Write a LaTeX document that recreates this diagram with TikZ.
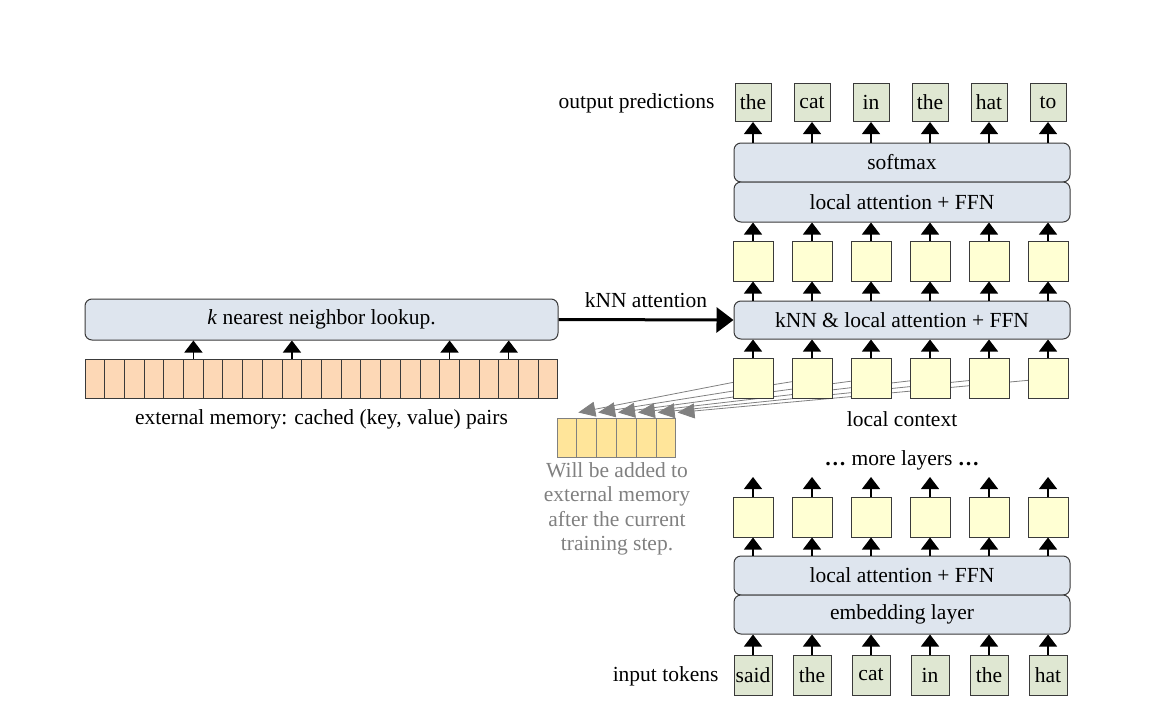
\documentclass[tikz,border=0pt]{standalone}
\usepackage{fontspec}
\setmainfont{Liberation Serif}
\usetikzlibrary{arrows.meta,backgrounds}
\definecolor{layerfill}{HTML}{DEE5EE}
\definecolor{tokfill}{HTML}{DFE7D2}
\definecolor{hidfill}{HTML}{FFFFD3}
\definecolor{memfill}{HTML}{FDD8B6}
\definecolor{newfill}{HTML}{FFE59A}
\definecolor{edge}{HTML}{3A3A3A}
\definecolor{graytxt}{HTML}{808080}
\begin{document}
\begin{tikzpicture}[x=1pt,y=-1pt,
  font=\fontsize{21.5}{24.3}\selectfont,
  layer/.style={draw=edge, line width=1pt, fill=layerfill, rounded corners=7pt, minimum width=336pt, inner sep=0pt},
  tok/.style={draw=edge, line width=1pt, fill=tokfill, minimum width=36pt, minimum height=38pt, inner sep=0pt},
  hid/.style={draw=edge, line width=1pt, fill=hidfill, minimum width=40pt, minimum height=40pt, inner sep=0pt},
  mem/.style={draw=edge, line width=1pt, fill=memfill, minimum width=19.708pt, minimum height=39pt, inner sep=0pt},
  newmem/.style={draw=graytxt, line width=1pt, fill=newfill, minimum width=19.83pt, minimum height=39pt, inner sep=0pt},
  arr/.style={-{Triangle[width=18pt,length=12pt]}, line width=1.2pt, black},
  bigarr/.style={-{Triangle[width=25pt,length=17pt]}, line width=3pt, black},
  grayarr/.style={-{Triangle[width=15pt,length=17pt]}, line width=0.8pt, graytxt},
]
\useasboundingbox (0,0) rectangle (1151,709);

% layers
\node[layer, minimum height=39pt] (soft) at (902,162.5) {softmax};
\node[layer, minimum height=40pt] (la1) at (902,202) {local attention + FFN};
\node[layer, minimum height=38pt] (knn) at (902,320) {kNN \& local attention + FFN};
\node[layer, minimum height=39pt] (la2) at (902,575.5) {local attention + FFN};
\node[layer, minimum height=39pt] (emb) at (902,614.5) {embedding layer};

% columns
\foreach \i/\o/\n in {1/the/said,2/cat/the,3/in/cat,4/the/in,5/hat/the,6/to/hat} {
  \pgfmathsetmacro{\cx}{753+59*(\i-1)}
  \node[tok] (out\i) at (\cx,102.5) {\o};
  \node[hid] (ha\i) at (\cx,261) {};
  \node[hid] (hb\i) at (\cx,378.5) {};
  \node[hid] (hc\i) at (\cx,517) {};
  \node[tok, minimum width=38pt, minimum height=40pt] (in\i) at (\cx,675) {\n};
  \coordinate (up\i) at (\cx,477);
  \draw[arr] (soft.north -| out\i) -- (out\i.south);
  \draw[arr] (ha\i.north) -- (la1.south -| ha\i);
  \draw[arr] (knn.north -| ha\i) -- (ha\i.south);
  \draw[arr] (hb\i.north) -- (knn.south -| hb\i);
  \draw[arr] (hc\i.north) -- (up\i);
  \draw[arr] (la2.north -| hc\i) -- (hc\i.south);
  \draw[arr] (in\i.north) -- (emb.south -| in\i);
}

\node[anchor=east] (outlbl) at (718,103) {output predictions};
\node[anchor=east] (inlbl) at (722,676) {input tokens};
\node (ctx) at (902,419) {local context};
\node (more) at (902,460) {\textbf{\dots} more layers \textbf{\dots}};

% external memory
\node[layer, minimum width=473pt, minimum height=41pt] (look) at (321.5,319.5) {\textit{k} nearest neighbor lookup.};
\foreach \j in {0,...,23} {
  \node[mem] (m\j) at ({85+19.708*(\j+0.5)},378.5) {};
}
\foreach \j in {5,10,18,21} {
  \draw[arr] (m\j.north) -- (look.south -| m\j);
}
\node (memlbl) at (321.5,419) {external memory: cached (key, value) pairs};

\draw[bigarr] (look.east) -- (knn.west);
\node (knnlbl) at (646,300) {kNN attention};

% new memory
\foreach \j in {1,...,6} {
  \node[newmem] (g\j) at ({557+19.83*(\j-0.5)},437.5) {};
}
\begin{scope}[on background layer]
\foreach \j in {1,...,6} {
  \draw[grayarr] (hb\j.center) -- ([xshift=1pt,yshift=5pt]g\j.north east);
}
\end{scope}
\node[text=graytxt, align=center, anchor=north] (note) at (617,459) {Will be added to\\external memory\\after the current\\training step.};
\end{tikzpicture}
\end{document}
